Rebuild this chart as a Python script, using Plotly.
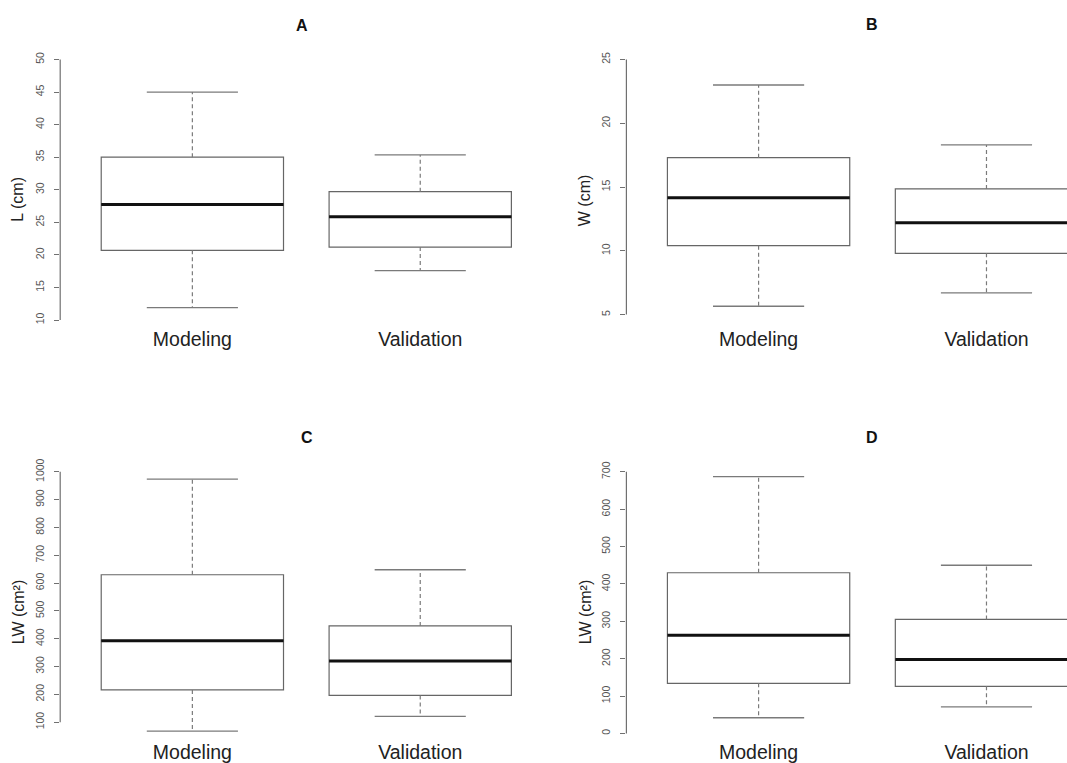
import plotly.graph_objects as go

# ---------------- data ----------------
categories = ["Modeling", "Validation"]

# Panel A: L (cm)
A_lower = [11.9, 17.6]
A_q1 = [20.7, 21.2]
A_median = [27.75, 25.85]
A_q3 = [35.0, 29.7]
A_upper = [45.0, 35.35]
A_ticks = [10, 15, 20, 25, 30, 35, 40, 45, 50]

# Panel B: W (cm)
B_lower = [5.65, 6.7]
B_q1 = [10.4, 9.8]
B_median = [14.15, 12.2]
B_q3 = [17.3, 14.85]
B_upper = [23.0, 18.3]
B_ticks = [5, 10, 15, 20, 25]

# Panel C: LW (cm²)
C_lower = [68, 121]
C_q1 = [216, 196]
C_median = [393, 320]
C_q3 = [630, 446]
C_upper = [974, 648]
C_ticks = [100, 200, 300, 400, 500, 600, 700, 800, 900, 1000]

# Panel D: LW (cm²)
D_lower = [42, 71]
D_q1 = [134, 126]
D_median = [263, 198]
D_q3 = [430, 305]
D_upper = [687, 450]
D_ticks = [0, 100, 200, 300, 400, 500, 600, 700]

panel_letters = ["A", "B", "C", "D"]
y_titles = ["L (cm)", "W (cm)", "LW (cm²)", "LW (cm²)"]

# ---------------- layout geometry ----------------
W, H = 1067, 763
FONT = "Liberation Sans, Arial, Helvetica, sans-serif"
BOX_COL = "#666666"
WHISK_COL = "#7a7a7a"
AXIS_COL = "#707070"

def px_x(p):
    return p / W

def px_y(p):
    return 1 - p / H

left_dom = [px_x(60.2), px_x(552.4)]
right_dom = [px_x(626.4), 1.0]
top_dom = [px_y(328.5), px_y(46.5)]
bot_dom = [px_y(742.5), px_y(460.5)]
LABEL_LIFT = 4.5  # px: category labels sit a bit closer to the plot than plotly's default

left_xrange = [0.42, 2.58]
right_xrange = [0.42, 0.42 + (1067 - 626.4) / 227.9]

panels = [
    dict(lower=A_lower, q1=A_q1, med=A_median, q3=A_q3, upper=A_upper, ticks=A_ticks,
         xdom=left_dom, ydom=top_dom, xr=left_xrange, yr=[8.44, 51.56], xpos=328.5,
         title_pos=(302, 22.5), ytitle_pos=(17.5, 197)),
    dict(lower=B_lower, q1=B_q1, med=B_median, q3=B_q3, upper=B_upper, ticks=B_ticks,
         xdom=right_dom, ydom=top_dom, xr=right_xrange, yr=[3.77, 25.8], xpos=328.5,
         title_pos=(872, 22), ytitle_pos=(584, 198)),
    dict(lower=C_lower, q1=C_q1, med=C_median, q3=C_q3, upper=C_upper, ticks=C_ticks,
         xdom=left_dom, ydom=bot_dom, xr=left_xrange, yr=[26.6, 1036.5], xpos=742.5,
         title_pos=(306.5, 436), ytitle_pos=(18, 611.7)),
    dict(lower=D_lower, q1=D_q1, med=D_median, q3=D_q3, upper=D_upper, ticks=D_ticks,
         xdom=right_dom, ydom=bot_dom, xr=right_xrange, yr=[-24.5, 727.2], xpos=742.5,
         title_pos=(872, 436.3), ytitle_pos=(585, 611.7)),
]

BOXW = 0.8
CAPW = 0.4

fig = go.Figure()
annotations = []
shapes = []
positions = [i + 1 for i in range(len(categories))]

for k, p in enumerate(panels):
    sfx = "" if k == 0 else str(k + 1)
    xa, ya = "x" + sfx, "y" + sfx

    # boxes (without whiskers; whiskers drawn dashed below)
    fig.add_trace(go.Box(
        x=positions, q1=p["q1"], median=p["med"], q3=p["q3"],
        lowerfence=p["q1"], upperfence=p["q3"],
        width=BOXW, whiskerwidth=0, fillcolor="rgba(255,255,255,0)",
        line=dict(color=BOX_COL, width=1.2), boxpoints=False,
        showlegend=False, hoverinfo="skip", xaxis=xa, yaxis=ya,
    ))

    wx, wy, cx, cy, mx, my = [], [], [], [], [], []
    for i, xp in enumerate(positions):
        wx += [xp, xp, None, xp, xp, None]
        wy += [p["q3"][i], p["upper"][i], None, p["q1"][i], p["lower"][i], None]
        cx += [xp - CAPW / 2, xp + CAPW / 2, None, xp - CAPW / 2, xp + CAPW / 2, None]
        cy += [p["upper"][i], p["upper"][i], None, p["lower"][i], p["lower"][i], None]
        mx += [xp - BOXW / 2, xp + BOXW / 2, None]
        my += [p["med"][i], p["med"][i], None]

    fig.add_trace(go.Scatter(x=wx, y=wy, mode="lines",
                             line=dict(color=WHISK_COL, width=1.2, dash="4px,3px"),
                             showlegend=False, hoverinfo="skip", xaxis=xa, yaxis=ya))
    fig.add_trace(go.Scatter(x=cx, y=cy, mode="lines",
                             line=dict(color=WHISK_COL, width=1.3),
                             showlegend=False, hoverinfo="skip", xaxis=xa, yaxis=ya))
    fig.add_trace(go.Scatter(x=mx, y=my, mode="lines",
                             line=dict(color="#111111", width=3),
                             showlegend=False, hoverinfo="skip", xaxis=xa, yaxis=ya))

    fig.update_layout(**{
        "xaxis" + sfx: dict(
            domain=p["xdom"], range=p["xr"], anchor="free",
            position=px_y(p["xpos"] - LABEL_LIFT),
            tickmode="array", tickvals=positions, ticktext=categories,
            showgrid=False, zeroline=False, showline=False, ticks="",
            tickfont=dict(family=FONT, size=19.5, color="#222222"),
            fixedrange=True,
        ),
        "yaxis" + sfx: dict(
            domain=p["ydom"], range=p["yr"], anchor=xa,
            tickmode="array", tickvals=p["ticks"],
            showgrid=False, zeroline=False, showline=False,
            ticks="outside", ticklen=5, tickcolor=AXIS_COL, tickwidth=1,
            tickangle=-90, ticklabelstandoff=6,
            tickfont=dict(family=FONT, size=10.5, color="#555555"),
            fixedrange=True,
        ),
    })

    # y-axis line spanning first to last tick (R style)
    shapes.append(dict(type="line", xref=xa + " domain", yref=ya,
                       x0=0, x1=0, y0=p["ticks"][0], y1=p["ticks"][-1],
                       line=dict(color=AXIS_COL, width=1.2), layer="above"))

    tx, ty = p["title_pos"]
    annotations.append(dict(text="<b>" + panel_letters[k] + "</b>", x=px_x(tx), y=px_y(ty),
                            xref="paper", yref="paper", showarrow=False,
                            xanchor="center", yanchor="middle",
                            font=dict(family=FONT, size=16, color="#111111")))
    yx, yy = p["ytitle_pos"]
    annotations.append(dict(text=y_titles[k], x=px_x(yx), y=px_y(yy),
                            xref="paper", yref="paper", showarrow=False,
                            xanchor="center", yanchor="middle", textangle=-90,
                            font=dict(family=FONT, size=16, color="#222222")))

fig.update_layout(
    width=W, height=H,
    margin=dict(l=0, r=0, t=0, b=0),
    paper_bgcolor="white", plot_bgcolor="white",
    annotations=annotations, shapes=shapes,
    showlegend=False,
)

fig.write_html("out.html",
               config={"displayModeBar": False},
               post_script="document.body.style.margin='0';document.body.style.overflow='hidden';")
